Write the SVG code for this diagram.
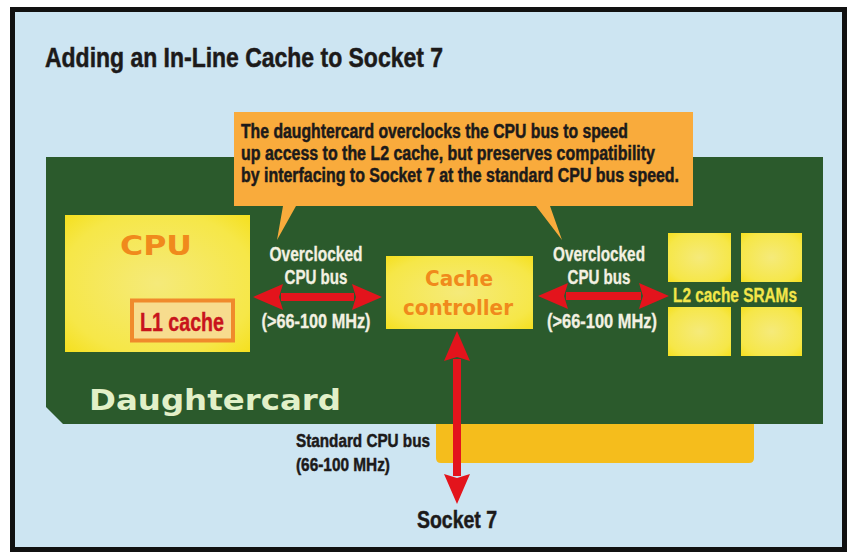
<svg xmlns="http://www.w3.org/2000/svg" width="853" height="554" viewBox="0 0 853 554">
<style>
.cond{font-family:"Liberation Sans Narrow","Liberation Sans",Arial,sans-serif;font-weight:bold}
.wide{font-family:"DejaVu Sans","Liberation Sans",sans-serif;font-weight:bold}
.dark{fill:#1c1a1a;stroke:#1c1a1a;stroke-width:0.5}
.lbl{fill:#f3f1e2;stroke:#f3f1e2;stroke-width:0.3;font-size:19.5px}
.chip{fill:url(#chipGlow)}
.orangeTxt{fill:#f08a1c}
.bus{stroke:#e3141c;stroke-width:8;fill:none;marker-start:url(#head);marker-end:url(#head)}
</style>
<defs>
<radialGradient id="chipGlow" cx="0.5" cy="0.5" r="0.7">
<stop offset="0" stop-color="#f5ea7a"/>
<stop offset="0.75" stop-color="#f6e748"/>
<stop offset="1" stop-color="#f5e020"/>
</radialGradient>
<marker id="head" viewBox="0 -14 30 28" markerWidth="30" markerHeight="28" refX="2" refY="0" orient="auto-start-reverse" markerUnits="userSpaceOnUse">
<path d="M0,-13 L30,0 L0,13 L4,0 Z" fill="#e3141c"/>
</marker>
</defs>
<rect x="0" y="0" width="853" height="554" fill="#ffffff"/>
<rect id="frame" x="12.5" y="9.5" width="832" height="540" fill="#cde5f2" stroke="#111" stroke-width="5"/>
<g id="title">
<text class="cond dark" x="45" y="67" font-size="27" textLength="398" lengthAdjust="spacingAndGlyphs">Adding an In-Line Cache to Socket 7</text>
</g>
<g id="edge-connector">
<path d="M436,420 H754 V458 Q754,463 749,463 H441 Q436,463 436,458 Z" fill="#f5bd1c"/>
</g>
<g id="daughtercard">
<path d="M46,157 H823 V424 H63 L46,407 Z" fill="#2b5a2c"/>
<text class="wide" x="89" y="410" font-size="29" fill="#e2f0c8" textLength="252" lengthAdjust="spacingAndGlyphs">Daughtercard</text>
</g>
<g id="callout">
<path d="M234,112 H693 V206 H550 L562,240 L536,206 H296 L277,240 L283,206 H234 Z" fill="#f9ab3c"/>
<text class="cond dark" font-size="19.5">
<tspan x="241" y="138" textLength="387" lengthAdjust="spacingAndGlyphs">The daughtercard overclocks the CPU bus to speed</tspan>
<tspan x="241" y="160" textLength="414" lengthAdjust="spacingAndGlyphs">up access to the L2 cache, but preserves compatibility</tspan>
<tspan x="241" y="182" textLength="438" lengthAdjust="spacingAndGlyphs">by interfacing to Socket 7 at the standard CPU bus speed.</tspan>
</text>
</g>
<g id="cpu">
<rect class="chip" x="65" y="215" width="185" height="137"/>
<text class="wide orangeTxt" x="120" y="255" font-size="26" textLength="72" lengthAdjust="spacingAndGlyphs">CPU</text>
<g id="l1-cache">
<rect x="132" y="300.5" width="101" height="40" fill="#f7dc8e" stroke="#f08a2c" stroke-width="4"/>
<text class="cond" x="140" y="331" font-size="25" fill="#c8141c" stroke="#c8141c" stroke-width="0.4" textLength="84" lengthAdjust="spacingAndGlyphs">L1 cache</text>
</g>
</g>
<g id="cache-controller">
<rect class="chip" x="386" y="256" width="147" height="73"/>
<text class="wide orangeTxt" x="425" y="286" font-size="22" textLength="68" lengthAdjust="spacingAndGlyphs">Cache</text>
<text class="wide orangeTxt" x="403" y="315" font-size="22" textLength="110" lengthAdjust="spacingAndGlyphs">controller</text>
</g>
<g id="l2-srams">
<rect class="chip" x="668" y="233" width="63" height="49"/>
<rect class="chip" x="741" y="233" width="61" height="49"/>
<rect class="chip" x="668" y="307" width="63" height="49"/>
<rect class="chip" x="741" y="307" width="61" height="49"/>
<text class="cond" x="673" y="302" font-size="19.5" fill="#f3e64a" stroke="#f3e64a" stroke-width="0.3" textLength="124" lengthAdjust="spacingAndGlyphs">L2 cache SRAMs</text>
</g>
<g id="connectors">
<line class="bus" x1="281" y1="297" x2="354" y2="297"/>
<line class="bus" x1="566" y1="296" x2="641" y2="296"/>
<line class="bus" x1="457" y1="359" x2="457" y2="476"/>
</g>
<g id="bus-labels">
<text class="cond lbl" x="316" y="261" text-anchor="middle" textLength="93" lengthAdjust="spacingAndGlyphs">Overclocked</text>
<text class="cond lbl" x="316" y="284" text-anchor="middle" textLength="63" lengthAdjust="spacingAndGlyphs">CPU bus</text>
<text class="cond lbl" x="316" y="328" text-anchor="middle" textLength="109" lengthAdjust="spacingAndGlyphs">(&gt;66-100 MHz)</text>
<text class="cond lbl" x="599" y="261" text-anchor="middle" textLength="92" lengthAdjust="spacingAndGlyphs">Overclocked</text>
<text class="cond lbl" x="599" y="284" text-anchor="middle" textLength="63" lengthAdjust="spacingAndGlyphs">CPU bus</text>
<text class="cond lbl" x="602" y="328" text-anchor="middle" textLength="110" lengthAdjust="spacingAndGlyphs">(&gt;66-100 MHz)</text>
<text class="cond dark" x="296" y="447" font-size="19" textLength="134" lengthAdjust="spacingAndGlyphs">Standard CPU bus</text>
<text class="cond dark" x="296" y="471" font-size="19" textLength="94" lengthAdjust="spacingAndGlyphs">(66-100 MHz)</text>
</g>
<g id="socket7">
<text class="cond dark" x="417" y="528" font-size="24" textLength="80" lengthAdjust="spacingAndGlyphs">Socket 7</text>
</g>
</svg>
